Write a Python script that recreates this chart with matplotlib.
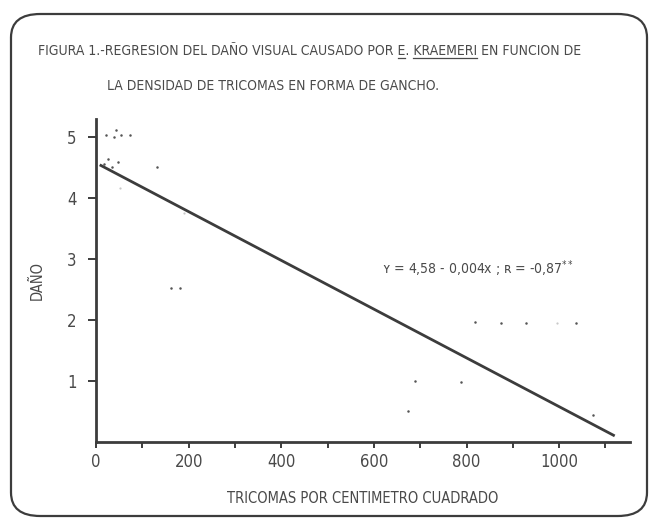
import numpy as np
import matplotlib
matplotlib.use("Agg")
import matplotlib.pyplot as plt
from matplotlib.patches import FancyBboxPatch
from matplotlib.font_manager import FontProperties
from matplotlib.lines import Line2D

# data
tric = [22, 43, 39, 54, 74, 17, 26, 34, 48, 132, 163, 181,
        819, 875, 929, 1037, 689, 789, 673, 1073]
dano = [5.04, 5.12, 5.00, 5.03, 5.04, 4.56, 4.65, 4.51, 4.60, 4.51, 2.52, 2.52,
        1.97, 1.96, 1.95, 1.96, 1.00, 0.99, 0.51, 0.45]
# very faint dots in the scan
tric_faint = [52, 190, 996]
dano_faint = [4.16, 3.75, 1.96]

a, b = 4.58, 0.004
x_line = [8, 1120]
x_ticks = [0, 200, 400, 600, 800, 1000]
x_minor = [100, 300, 500, 700, 900, 1100]
y_ticks = [1, 2, 3, 4, 5]

fam = ['DejaVu Sans']
plt.rcParams['font.family'] = fam
plt.rcParams['font.stretch'] = 'condensed'
ink = '#3c3c3c'
txt = '#4a4a4a'

W, H = 651, 521
fig = plt.figure(figsize=(W / 100, H / 100), dpi=100)

def fx(px): return px / W
def fy(py): return 1 - py / H

# rounded frame round the whole figure
frame = FancyBboxPatch((fx(11), fy(516)), fx(636), (516 - 14) / H,
                       boxstyle="round,pad=0,rounding_size=0.045",
                       transform=fig.transFigure, fill=False,
                       edgecolor=ink, linewidth=1.6)
fig.patches.append(frame)

ax = fig.add_axes([fx(96), fy(442), (630 - 96) / W, (442 - 119) / H])
ax.set_xlim(0, 1153)
ax.set_ylim(0, 5.3)

ax.plot(tric, dano, 'o', ms=1.8, color='#555555', mec='none')
ax.plot(tric_faint, dano_faint, 'o', ms=1.6, color='#c8c8c8', mec='none')
xl = np.array(x_line)
ax.plot(xl, a - b * xl, color=ink, lw=2.0, solid_capstyle='butt')

for s in ['top', 'right']:
    ax.spines[s].set_visible(False)
for s in ['left', 'bottom']:
    ax.spines[s].set_linewidth(2.0)
    ax.spines[s].set_color(ink)

ax.set_xticks(x_ticks)
ax.set_xticks(x_minor, minor=True)
ax.set_yticks(y_ticks)
ax.tick_params(axis='x', which='both', length=4, width=1.4, color=ink,
               labelsize=12, labelcolor=txt, pad=4)
ax.tick_params(axis='y', length=6, width=1.4, color=ink,
               labelsize=12, labelcolor=txt, pad=8)

ax.set_xlabel('TRICOMAS POR CENTIMETRO CUADRADO', fontsize=10.5, color=txt, labelpad=14)
ax.set_ylabel('DAÑO', fontsize=10.5, color=txt, labelpad=16)

# title, with E. KRAEMERI underlined
fig.canvas.draw()
rend = fig.canvas.get_renderer()
fp = FontProperties(family=fam, size=10, stretch='condensed')

def width_px(s, prop):
    w, h, d = rend.get_text_width_height_descent(s, prop, False)
    return w

pre = 'FIGURA 1.-REGRESION DEL DAÑO VISUAL CAUSADO POR '
line1 = pre + 'E. KRAEMERI EN FUNCION DE'

x0, yb1, yb2 = 38, 55, 90
fig.text(fx(x0), fy(yb1), line1, fontproperties=fp, color=txt, va='baseline')
fig.text(fx(107), fy(yb2), 'LA DENSIDAD DE TRICOMAS EN FORMA DE GANCHO.',
         fontproperties=fp, color=txt, va='baseline')

for part_pre, word in [(pre, 'E'), (pre + 'E. ', 'KRAEMERI')]:
    xs = x0 + width_px(part_pre, fp)
    xe = xs + width_px(word, fp)
    fig.lines.append(Line2D([fx(xs), fx(xe)], [fy(yb1 + 3), fy(yb1 + 3)],
                            transform=fig.transFigure, color=txt, lw=0.9))

fp_eq = FontProperties(family=fam, size=10, stretch='condensed')
ax.text(618, 2.75, 'ʏ = 4,58 - 0,004x ; ʀ = -0,87$^{**}$', fontproperties=fp_eq,
        color=txt, va='baseline')

fig.savefig('out.png', dpi=100)
